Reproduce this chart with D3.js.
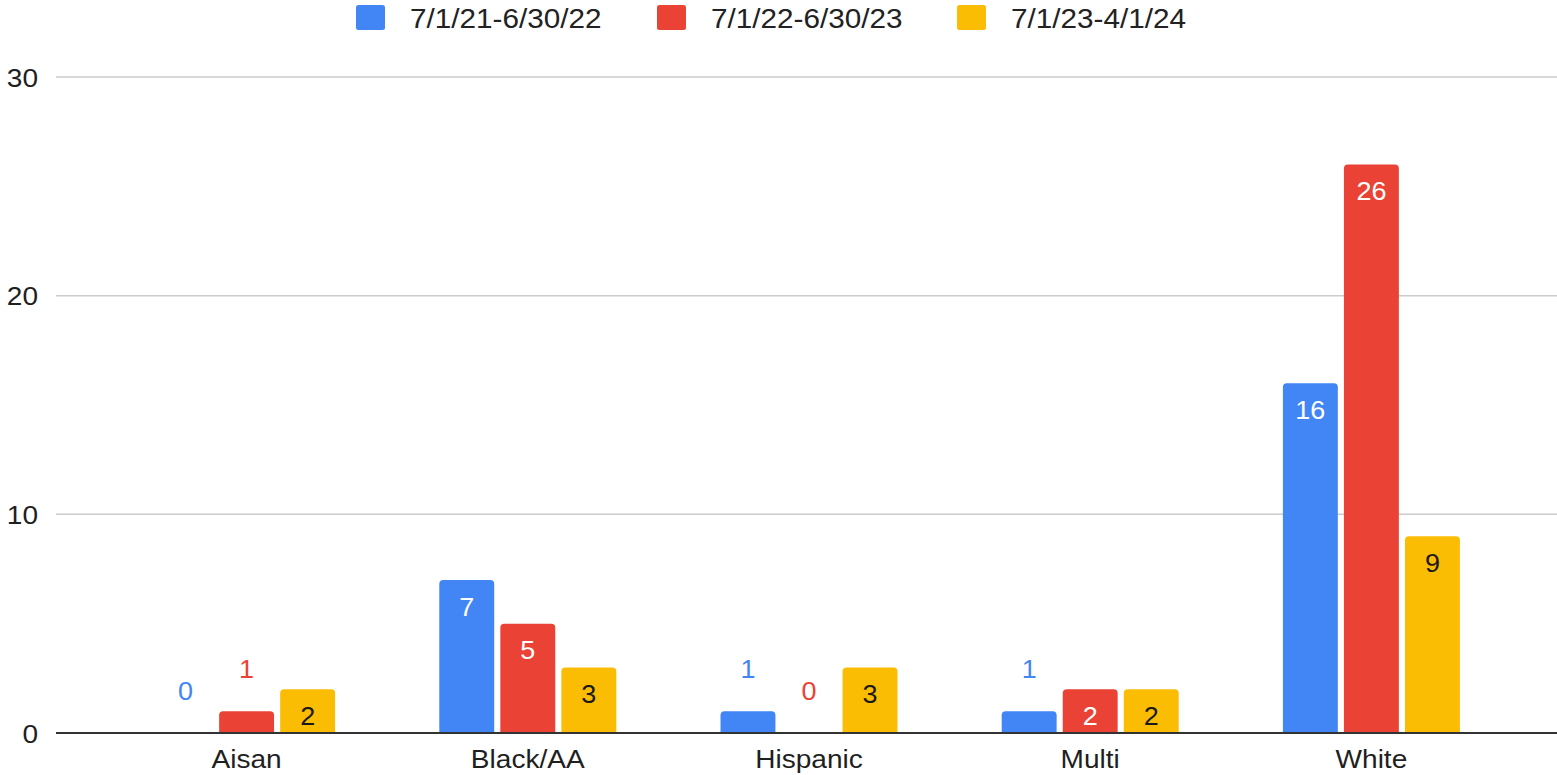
<!DOCTYPE html>
<html>
<head>
<meta charset="utf-8">
<script src="https://cdn.jsdelivr.net/npm/d3@7"></script>
<style>
  html, body { margin: 0; padding: 0; background: #fff; }
  svg { display: block; }
  text { font-family: "Liberation Sans", Arial, sans-serif; }
</style>
</head>
<body>
<svg id="chart" width="1557" height="775"></svg>
<script>
// Chart data
const categories = ["Aisan", "Black/AA", "Hispanic", "Multi", "White"];
const seriesNames = ["7/1/21-6/30/22", "7/1/22-6/30/23", "7/1/23-4/1/24"];
const series2122 = [0, 7, 1, 1, 16];
const series2223 = [1, 5, 0, 2, 26];
const series2324 = [2, 3, 3, 2, 9];
const yTicks = [0, 10, 20, 30];

const seriesValues = [series2122, series2223, series2324];
const colors = ["#4285F4", "#EA4335", "#FBBC04"];
const insideLabelColors = ["#ffffff", "#ffffff", "#1a1a1a"];

const svg = d3.select("#chart");
const W = 1557, H = 775;

// Horizontal stretch applied to text so glyph widths match the drawing
const SX = 1.08;

const y = d3.scaleLinear().domain([0, 30]).range([733, 77]);
const x0 = d3.scaleBand().domain(categories).range([106, 1512]).padding(0);
const x1 = d3.scaleBand().domain(d3.range(seriesNames.length))
  .range([-88.5, 88.5]).paddingInner(0.1).paddingOuter(0);

const gridLeft = 56, gridRight = W;

// Gridlines
svg.append("g").selectAll("line")
  .data(yTicks.filter(t => t !== 0))
  .join("line")
  .attr("x1", gridLeft).attr("x2", gridRight)
  .attr("y1", d => y(d)).attr("y2", d => y(d))
  .attr("stroke", "#cccccc").attr("stroke-width", 1.5);

function stretchedText(g, x, yPos, txt, anchor, baseline = "central") {
  return g.append("text")
    .attr("transform", `translate(${x},${yPos}) scale(${SX},1)`)
    .attr("text-anchor", anchor)
    .attr("dominant-baseline", baseline)
    .text(txt);
}

// Y tick labels
const yAxisG = svg.append("g").attr("fill", "#1f1f1f").attr("font-size", 26);
yTicks.forEach(t => stretchedText(yAxisG, 38, y(t) + 1, String(t), "end"));

// Bars with rounded top corners
function barPath(x, top, w, bottom, r) {
  const h = bottom - top;
  if (h <= 0) return "";
  r = Math.min(r, h, w / 2);
  return `M${x},${bottom}V${top + r}Q${x},${top} ${x + r},${top}` +
         `H${x + w - r}Q${x + w},${top} ${x + w},${top + r}V${bottom}Z`;
}

const rows = [];
categories.forEach((c, ci) => {
  seriesValues.forEach((vals, si) => {
    rows.push({ cat: c, si, v: vals[ci] });
  });
});

const barsG = svg.append("g");
barsG.selectAll("path")
  .data(rows)
  .join("path")
  .attr("d", d => {
    const bx = x0(d.cat) + x0.bandwidth() / 2 + x1(d.si);
    return barPath(bx, y(d.v), x1.bandwidth(), y(0), 4);
  })
  .attr("fill", d => colors[d.si]);

// Value labels: inside near the top for tall bars, above for short ones
const labelsG = svg.append("g").attr("font-size", 25);
rows.forEach(d => {
  const cx = x0(d.cat) + x0.bandwidth() / 2 + x1(d.si) + x1.bandwidth() / 2;
  const barH = y(0) - y(d.v);
  const inside = barH >= 40;
  const ly = inside ? y(d.v) + 27 : y(d.v) - 42;
  stretchedText(labelsG, cx, ly, String(d.v), "middle")
    .attr("fill", inside ? insideLabelColors[d.si] : colors[d.si]);
});

// Baseline
svg.append("line")
  .attr("x1", gridLeft).attr("x2", gridRight)
  .attr("y1", y(0)).attr("y2", y(0))
  .attr("stroke", "#333333").attr("stroke-width", 2);

// Category labels
const xAxisG = svg.append("g").attr("fill", "#1f1f1f").attr("font-size", 26);
categories.forEach(c =>
  stretchedText(xAxisG, x0(c) + x0.bandwidth() / 2, 768, c, "middle", "alphabetic"));

// Legend
const legendX = [356, 657, 957];
const legendG = svg.append("g");
seriesNames.forEach((name, i) => {
  legendG.append("rect")
    .attr("x", legendX[i]).attr("y", 5)
    .attr("width", 29).attr("height", 25)
    .attr("rx", 2.5)
    .attr("fill", colors[i]);
  stretchedText(legendG, legendX[i] + 54, 18, name, "start")
    .attr("font-size", 27.5)
    .attr("fill", "#222222");
});
</script>
</body>
</html>
